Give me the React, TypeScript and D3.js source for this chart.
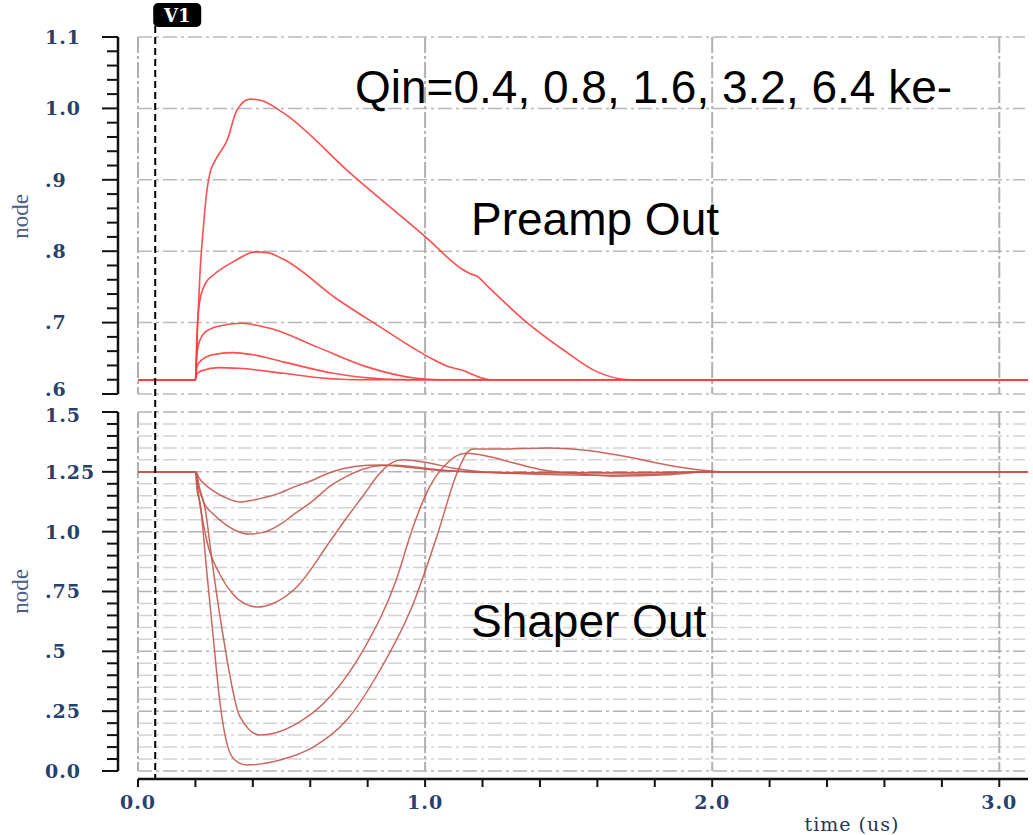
import React from "react";
import * as d3 from "d3";

// ---------- tick labels ----------
const xTicks = [0, 1, 2, 3];
const xTickLabels = ["0.0", "1.0", "2.0", "3.0"];
const preTicks = [1.1, 1.0, 0.9, 0.8, 0.7, 0.6];
const preTickLabels = ["1.1", "1.0", ".9", ".8", ".7", ".6"];
const shpTicks = [1.5, 1.25, 1.0, 0.75, 0.5, 0.25, 0];
const shpTickLabels = ["1.5", "1.25", "1.0", ".75", ".5", ".25", "0.0"];
const cursorTime = 0.06;
const cursorLabel = "V1";
const annotations = ["Qin=0.4, 0.8, 1.6, 3.2, 6.4 ke-", "Preamp Out", "Shaper Out"];

// ---------- preamp output (time us, volts) ----------
const preamp04: [number, number][] = [
  [0, 0.62], [0.2, 0.62], [0.205, 0.628], [0.225, 0.633], [0.28, 0.637], [0.35, 0.636],
  [0.506, 0.629], [0.65, 0.622], [0.75, 0.62], [3.1, 0.62],
];
const preamp08: [number, number][] = [
  [0, 0.62], [0.2, 0.62], [0.205, 0.638], [0.22, 0.647], [0.26, 0.655], [0.33, 0.658],
  [0.4, 0.655], [0.506, 0.645], [0.68, 0.629], [0.855, 0.621], [0.95, 0.62], [3.1, 0.62],
];
const preamp16: [number, number][] = [
  [0, 0.62], [0.2, 0.62], [0.205, 0.655], [0.215, 0.675], [0.235, 0.687], [0.28, 0.695],
  [0.36, 0.699], [0.46, 0.692], [0.623, 0.666], [0.797, 0.638], [0.97, 0.622], [1.05, 0.62], [3.1, 0.62],
];
const preamp32: [number, number][] = [
  [0, 0.62], [0.2, 0.62], [0.205, 0.68], [0.215, 0.73], [0.235, 0.755], [0.261, 0.766],
  [0.331, 0.785], [0.41, 0.799], [0.45, 0.798], [0.505, 0.789], [0.697, 0.732], [0.843, 0.694],
  [1.007, 0.653], [1.077, 0.639], [1.132, 0.633], [1.18, 0.625], [1.226, 0.62], [3.1, 0.62],
];
const preamp64: [number, number][] = [
  [0, 0.62], [0.2, 0.62], [0.208, 0.7], [0.216, 0.77], [0.228, 0.835], [0.24, 0.885],
  [0.251, 0.91], [0.27, 0.928], [0.31, 0.955], [0.345, 0.998], [0.39, 1.013], [0.43, 1.011],
  [0.505, 0.994], [0.74, 0.909], [1.007, 0.818], [1.132, 0.774], [1.16, 0.768], [1.181, 0.765],
  [1.22, 0.75], [1.355, 0.7], [1.481, 0.662], [1.6, 0.631], [1.714, 0.62], [3.1, 0.62],
];

// ---------- shaper output (time us, volts) ----------
const shaper04: [number, number][] = [
  [0, 1.25], [0.2, 1.25], [0.215, 1.22], [0.24, 1.19], [0.261, 1.172], [0.3, 1.145],
  [0.355, 1.124], [0.425, 1.138], [0.495, 1.162], [0.54, 1.185], [0.61, 1.216], [0.66, 1.243],
  [0.72, 1.265], [0.8, 1.278], [0.85, 1.279], [0.95, 1.268], [1.06, 1.255], [1.3, 1.247],
  [1.7, 1.247], [2.0, 1.25], [3.1, 1.25],
];
const shaper08: [number, number][] = [
  [0, 1.25], [0.2, 1.25], [0.21, 1.19], [0.23, 1.12], [0.261, 1.075], [0.3, 1.035],
  [0.34, 1.005], [0.387, 0.99], [0.44, 0.998], [0.495, 1.03], [0.54, 1.07], [0.61, 1.13],
  [0.669, 1.19], [0.728, 1.232], [0.78, 1.26], [0.85, 1.276], [0.9, 1.277], [1.0, 1.265],
  [1.1, 1.254], [1.3, 1.245], [1.7, 1.245], [2.0, 1.25], [3.1, 1.25],
];
const shaper16: [number, number][] = [
  [0, 1.25], [0.2, 1.25], [0.21, 1.16], [0.225, 1.05], [0.24, 0.96], [0.286, 0.82],
  [0.33, 0.74], [0.37, 0.7], [0.415, 0.685], [0.47, 0.7], [0.554, 0.77], [0.669, 0.96],
  [0.728, 1.06], [0.784, 1.15], [0.843, 1.245], [0.88, 1.285], [0.923, 1.3], [1.0, 1.29],
  [1.1, 1.265], [1.237, 1.247], [1.4, 1.24], [1.6, 1.236], [1.8, 1.24], [2.0, 1.25], [3.1, 1.25],
];
const shaper32: [number, number][] = [
  [0, 1.25], [0.2, 1.25], [0.215, 1.18], [0.233, 1.1], [0.262, 0.84], [0.297, 0.56],
  [0.355, 0.227], [0.425, 0.15], [0.48, 0.16], [0.553, 0.198], [0.669, 0.31], [0.785, 0.506],
  [0.9, 0.8], [0.958, 1.02], [1.017, 1.19], [1.077, 1.287], [1.111, 1.318], [1.146, 1.328],
  [1.226, 1.313], [1.3, 1.29], [1.4, 1.26], [1.5, 1.245], [1.65, 1.232], [1.85, 1.238],
  [2.0, 1.25], [3.1, 1.25],
];
const shaper64: [number, number][] = [
  [0, 1.25], [0.2, 1.25], [0.205, 1.18], [0.216, 1.12], [0.239, 0.84], [0.262, 0.56],
  [0.286, 0.28], [0.321, 0.074], [0.35, 0.035], [0.379, 0.025], [0.495, 0.046], [0.61, 0.1],
  [0.727, 0.213], [0.843, 0.422], [0.959, 0.7], [1.041, 0.98], [1.111, 1.244], [1.146, 1.33],
  [1.167, 1.345], [1.25, 1.345], [1.43, 1.35], [1.575, 1.338], [1.725, 1.308], [1.843, 1.279],
  [1.958, 1.258], [2.05, 1.25], [3.1, 1.25],
];

const preampSeries = [preamp04, preamp08, preamp16, preamp32, preamp64];
const shaperSeries = [shaper04, shaper08, shaper16, shaper32, shaper64];

const W = 1033;
const H = 835;
const LABEL_FONT = "'DejaVu Serif', serif";
const LABEL_COLOR = "#27406e";

export default function App() {
  const x = d3.scaleLinear().domain([0, 3.1]).range([138, 1028]);
  const yTop = d3.scaleLinear().domain([0.6, 1.1]).range([394, 37]);
  const yBot = d3.scaleLinear().domain([0, 1.5]).range([771, 412]);
  const gridRight = 1025;
  const axisX = 118;
  const xAxisY = 779;

  const lineTop = d3
    .line<[number, number]>()
    .x((d) => x(d[0]))
    .y((d) => yTop(d[1]))
    .curve(d3.curveMonotoneX);
  const lineBot = d3
    .line<[number, number]>()
    .x((d) => x(d[0]))
    .y((d) => yBot(d[1]))
    .curve(d3.curveMonotoneX);

  const topMinor = d3.range(0, 26).map((i) => 0.6 + i * 0.02);
  const botMinor = d3.range(0, 31).map((i) => i * 0.05);
  const xMinor = d3.range(0, 16).map((i) => i * 0.2);

  const dashH = "14,4,3,4";
  const dashV = "16,3,3,3";

  return (
    <svg
      width={W}
      height={H}
      viewBox={`0 0 ${W} ${H}`}
      style={{ position: "absolute", left: 0, top: 0, background: "#fff" }}
    >
      <rect x={0} y={0} width={W} height={H} fill="#fff" />

      {/* ---- top panel grid ---- */}
      {preTicks.map((v, i) => (
        <line
          key={"tg" + i}
          x1={x(0)}
          x2={gridRight}
          y1={yTop(v)}
          y2={yTop(v)}
          stroke="#b9b9b9"
          strokeWidth={1.5}
          strokeDasharray={dashH}
        />
      ))}
      {xTicks.map((t, i) => (
        <line
          key={"tv" + i}
          x1={x(t)}
          x2={x(t)}
          y1={yTop(1.1)}
          y2={yTop(0.6)}
          stroke="#b0b0b0"
          strokeWidth={2}
          strokeDasharray={dashV}
        />
      ))}

      {/* ---- bottom panel grid ---- */}
      {botMinor.map((v, i) => (
        <line
          key={"bg" + i}
          x1={x(0)}
          x2={gridRight}
          y1={yBot(v)}
          y2={yBot(v)}
          stroke={i % 5 === 0 ? "#b4b4b4" : "#d2d2d2"}
          strokeWidth={1.5}
          strokeDasharray={dashH}
        />
      ))}
      {xTicks.map((t, i) => (
        <line
          key={"bv" + i}
          x1={x(t)}
          x2={x(t)}
          y1={yBot(1.5)}
          y2={yBot(0)}
          stroke="#b0b0b0"
          strokeWidth={2}
          strokeDasharray={dashV}
        />
      ))}

      {/* ---- curves ---- */}
      {preampSeries.map((s, i) => (
        <path
          key={"p" + i}
          d={lineTop(s) || ""}
          fill="none"
          stroke="#ff3b3b"
          strokeOpacity={0.9}
          strokeWidth={1.6}
        />
      ))}
      {shaperSeries.map((s, i) => (
        <path
          key={"s" + i}
          d={lineBot(s) || ""}
          fill="none"
          stroke="#c4574c"
          strokeOpacity={0.9}
          strokeWidth={1.5}
        />
      ))}

      {/* ---- left axes ---- */}
      <line x1={axisX} x2={axisX} y1={yTop(1.1)} y2={yTop(0.6)} stroke="#111" strokeWidth={2.5} />
      {topMinor.map((v, i) => (
        <line
          key={"tt" + i}
          x1={i % 5 === 0 ? axisX - 16 : axisX - 11}
          x2={axisX}
          y1={yTop(v)}
          y2={yTop(v)}
          stroke="#111"
          strokeWidth={2}
        />
      ))}
      {preTicks.map((v, i) => (
        <text
          key={"tl" + i}
          x={45}
          y={yTop(v) - (v === 0.6 ? 5 : 0)}
          dy="0.36em"
          fontFamily={LABEL_FONT}
          fontSize={19}
          fontWeight="bold"
          letterSpacing={1}
          fill={LABEL_COLOR}
        >
          {preTickLabels[i]}
        </text>
      ))}

      <line x1={axisX} x2={axisX} y1={yBot(1.5)} y2={yBot(0)} stroke="#111" strokeWidth={2.5} />
      {botMinor.map((v, i) => (
        <line
          key={"bt" + i}
          x1={i % 5 === 0 ? axisX - 16 : axisX - 11}
          x2={axisX}
          y1={yBot(v)}
          y2={yBot(v)}
          stroke="#111"
          strokeWidth={2}
        />
      ))}
      {shpTicks.map((v, i) => (
        <text
          key={"bl" + i}
          x={45}
          y={yBot(v) + (v === 1.5 ? 3 : 0)}
          dy="0.36em"
          fontFamily={LABEL_FONT}
          fontSize={19}
          fontWeight="bold"
          letterSpacing={1}
          fill={LABEL_COLOR}
        >
          {shpTickLabels[i]}
        </text>
      ))}

      {/* y titles */}
      <text
        transform={`translate(28,${(yTop(1.1) + yTop(0.6)) / 2 + 1}) rotate(-90)`}
        textAnchor="middle"
        fontFamily="'Liberation Serif', serif"
        fontSize={23}
        fill="#4a5d85"
      >
        node
      </text>
      <text
        transform={`translate(28,${(yBot(1.5) + yBot(0)) / 2}) rotate(-90)`}
        textAnchor="middle"
        fontFamily="'Liberation Serif', serif"
        fontSize={23}
        fill="#4a5d85"
      >
        node
      </text>

      {/* ---- bottom x axis ---- */}
      <line x1={x(0)} x2={1028} y1={xAxisY} y2={xAxisY} stroke="#111" strokeWidth={2.5} />
      {xMinor.map((t, i) => (
        <line
          key={"xt" + i}
          x1={x(t)}
          x2={x(t)}
          y1={xAxisY}
          y2={xAxisY + 8}
          stroke="#111"
          strokeWidth={2}
        />
      ))}
      {xTicks.map((t, i) => (
        <text
          key={"xl" + i}
          x={x(t)}
          y={809}
          textAnchor="middle"
          fontFamily={LABEL_FONT}
          fontSize={19}
          fontWeight="bold"
          letterSpacing={1}
          fill={LABEL_COLOR}
        >
          {xTickLabels[i]}
        </text>
      ))}
      <text
        x={852}
        y={831}
        textAnchor="middle"
        fontFamily={LABEL_FONT}
        fontSize={19}
        letterSpacing={1}
        fill="#2a3550"
      >
        time (us)
      </text>

      {/* ---- cursor V1 ---- */}
      <line
        x1={x(cursorTime)}
        x2={x(cursorTime)}
        y1={26}
        y2={xAxisY}
        stroke="#000"
        strokeWidth={2}
        strokeDasharray="7,4"
      />
      <rect x={x(cursorTime) - 2} y={3} width={48} height={24} rx={5} fill="#000" />
      <text
        x={x(cursorTime) + 22}
        y={22}
        textAnchor="middle"
        fontFamily={LABEL_FONT}
        fontSize={18}
        fontWeight="bold"
        fill="#fff"
      >
        {cursorLabel}
      </text>

      {/* ---- annotations ---- */}
      <text x={355} y={103} fontFamily="'Liberation Sans', Arial, sans-serif" fontSize={46} fill="#000">
        {annotations[0]}
      </text>
      <text x={471} y={235} fontFamily="'Liberation Sans', Arial, sans-serif" fontSize={46} fill="#000">
        {annotations[1]}
      </text>
      <text x={471} y={637} fontFamily="'Liberation Sans', Arial, sans-serif" fontSize={46} fill="#000">
        {annotations[2]}
      </text>
    </svg>
  );
}
